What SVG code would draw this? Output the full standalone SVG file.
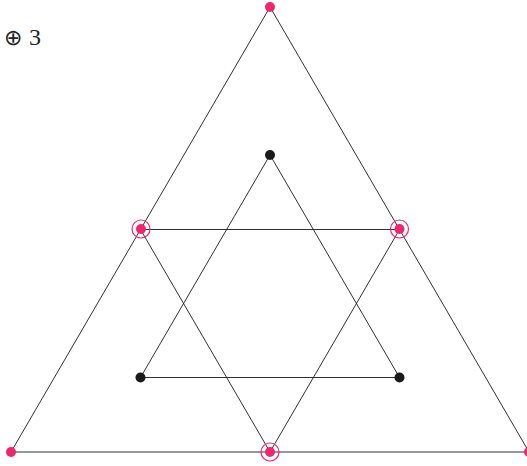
<svg xmlns="http://www.w3.org/2000/svg" width="527" height="466" viewBox="0 0 527 466">
<style>
.ln{fill:none;stroke:#1a1a1a;stroke-width:0.9}
.pk{fill:#f0266b}
.bk{fill:#1a1a1a}
.ring{fill:none;stroke:#f0266b;stroke-width:1.2}
.lbl{font-family:"Liberation Serif","DejaVu Serif",serif;font-size:24px;fill:#222}
.op{font-family:"DejaVu Sans ExtraLight","DejaVu Sans",sans-serif;font-weight:200;font-size:22px}
</style>
<g id="edges">
<polygon class="ln" points="270,7 11,452 529,452"/>
<polygon class="ln" points="140.5,229.5 399.5,229.5 270,452"/>
<polygon class="ln" points="270,155 140.5,377.5 399.5,377.5"/>
</g>
<g id="label"><text class="lbl" x="4" y="45"><tspan class="op">⊕</tspan><tspan x="29" y="45">3</tspan></text></g>
<g id="n-top"><circle class="pk" cx="270" cy="7" r="5"/></g>
<g id="n-bl"><circle class="pk" cx="11" cy="452" r="5"/></g>
<g id="n-br"><circle class="pk" cx="529" cy="452" r="5"/></g>
<g id="n-ml"><circle class="ring" cx="141" cy="229" r="9"/><circle class="pk" cx="141" cy="229" r="5"/></g>
<g id="n-mr"><circle class="ring" cx="399.5" cy="229" r="9"/><circle class="pk" cx="399.5" cy="229" r="5"/></g>
<g id="n-mb"><circle class="ring" cx="270" cy="452" r="9"/><circle class="pk" cx="270" cy="452" r="5"/></g>
<g id="i-top"><circle class="bk" cx="270" cy="155" r="5"/></g>
<g id="i-l"><circle class="bk" cx="140.5" cy="377.5" r="5"/></g>
<g id="i-r"><circle class="bk" cx="399.5" cy="377.5" r="5"/></g>
</svg>
